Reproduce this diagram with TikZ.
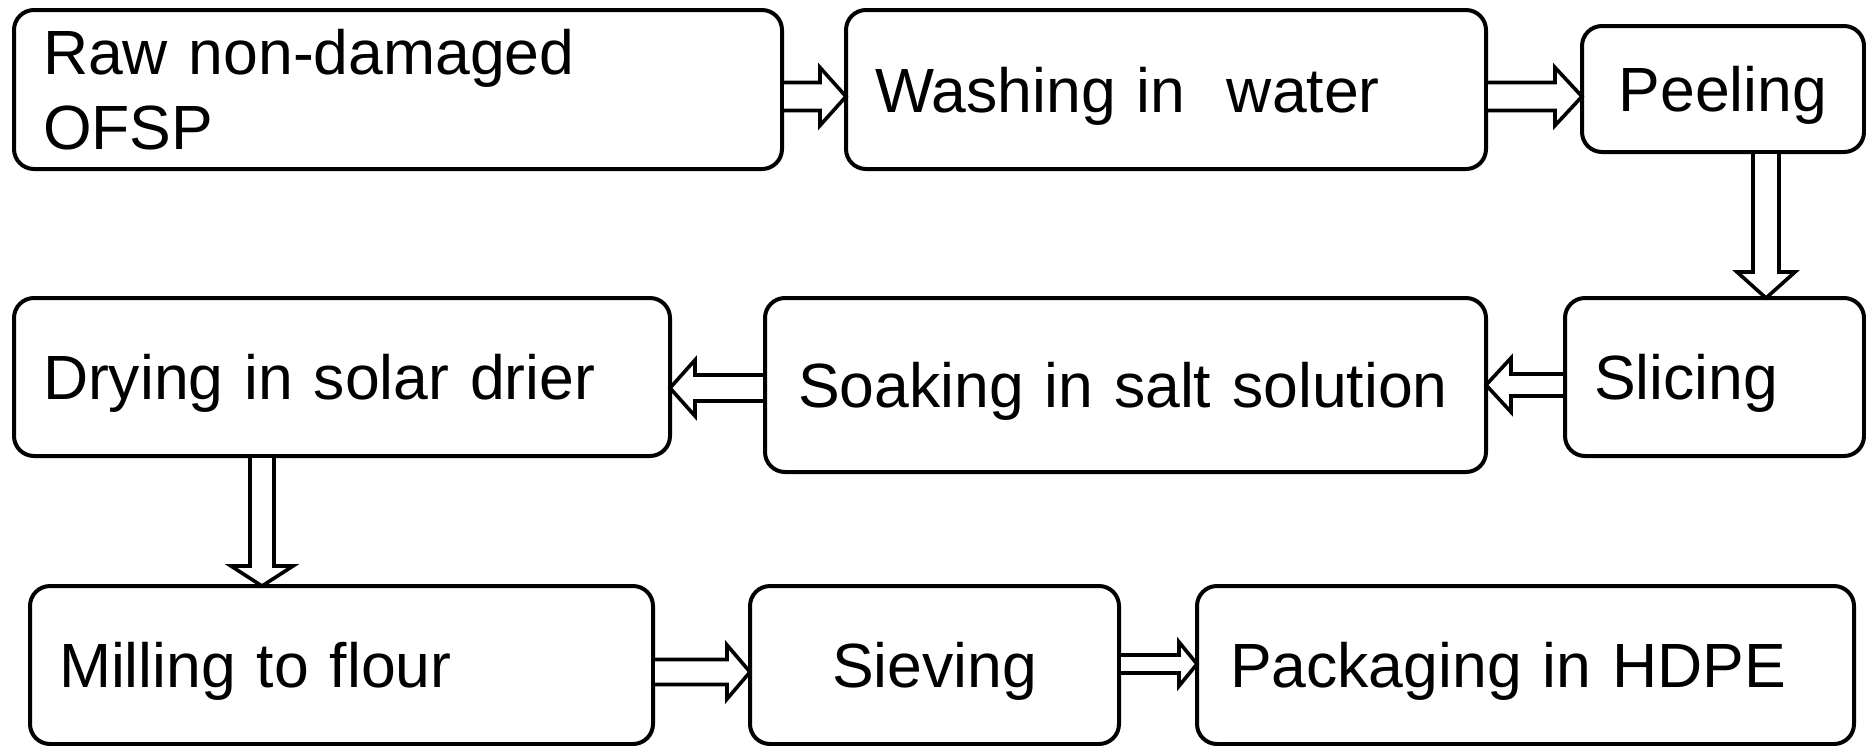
\documentclass[tikz,border=0pt]{standalone}
\usepackage{fontspec}
\setmainfont{Liberation Sans}
\usetikzlibrary{calc}
\tikzset{
  box/.style={draw, line width=4pt, rounded corners=20pt, anchor=north west,
    inner ysep=0pt, outer sep=0pt, font=\fontsize{62.5}{75}\selectfont},
  single/.style={text depth=0pt},
  leftbox/.style={box, align=left, inner xsep=29pt},
  blockarrow/.style={draw, line width=3.6pt, line join=miter, fill=white}
}
% #1 start, #2 tip, #3 shaft half width, #4 head half width, #5 head length
\newcommand\blockarrow[5]{%
  \coordinate (ba-h) at ($(#2)!#5!(#1)$);
  \path[blockarrow] ($(#1)!#3!90:(#2)$) -- ($(ba-h)!#3!90:(#2)$) -- ($(ba-h)!#4!90:(#2)$)
    -- (#2) -- ($(ba-h)!#4!-90:(#2)$) -- ($(ba-h)!#3!-90:(#2)$) -- ($(#1)!#3!-90:(#2)$) -- cycle;
}
\begin{document}
\begin{tikzpicture}[x=1pt, y=-1pt]
\useasboundingbox (0,0) rectangle (1866,745);
% row 1
\node[leftbox, minimum height=159pt, text width=710pt] (raw) at (14,10) {Raw non-damaged\\OFSP};
\node[leftbox, single, minimum height=159pt, text width=582pt] (wash) at (846,10) {Washing in\ \ water};
\node[box, single, align=center, inner xsep=10pt, minimum height=126pt, text width=262pt] (peel) at (1582,26) {Peeling};
% row 2
\node[leftbox, single, minimum height=158pt, text width=598pt] (dry) at (14,298) {Drying in solar drier};
\node[box, single, align=left, inner xsep=33pt, minimum height=174pt, text width=655pt] (soak) at (765,298) {Soaking~in~salt~solution};
\node[leftbox, single, minimum height=158pt, text width=241pt] (slice) at (1565,298) {Slicing};
% row 3
\node[leftbox, single, minimum height=158pt, text width=565pt] (mill) at (30,586) {Milling to flour};
\node[box, single, align=center, inner xsep=10pt, minimum height=158pt, text width=349pt] (sieve) at (750,586) {Sieving};
\node[box, single, align=left, inner xsep=33pt, minimum height=158pt, text width=591pt] (pack) at (1197,586) {Packaging in HDPE};
% arrows
\coordinate (a1s) at ($(raw.east)+(0,7)$);
\coordinate (a1e) at (a1s -| wash.west);
\blockarrow{a1s}{a1e}{14pt}{29pt}{26pt}
\coordinate (a2s) at ($(wash.east)+(0,7)$);
\coordinate (a2e) at (a2s -| peel.west);
\blockarrow{a2s}{a2e}{14pt}{29pt}{27pt}
\coordinate (a3s) at ($(peel.south)+(43,0)$);
\coordinate (a3e) at (a3s |- slice.north);
\blockarrow{a3s}{a3e}{13pt}{29pt}{26pt}
\coordinate (a5s) at ($(slice.west)+(0,8)$);
\coordinate (a5e) at (a5s -| soak.east);
\blockarrow{a5s}{a5e}{11pt}{27pt}{25pt}
\coordinate (a4s) at ($(soak.west)+(0,3)$);
\coordinate (a4e) at (a4s -| dry.east);
\blockarrow{a4s}{a4e}{13pt}{28pt}{25pt}
\coordinate (a6s) at ($(dry.south)+(-80,0)$);
\coordinate (a6e) at (a6s |- mill.north);
\blockarrow{a6s}{a6e}{12pt}{31pt}{20pt}
\coordinate (a7s) at ($(mill.east)+(0,7)$);
\coordinate (a7e) at (a7s -| sieve.west);
\blockarrow{a7s}{a7e}{12.5pt}{27pt}{23pt}
\coordinate (a8s) at ($(sieve.east)+(0,-1)$);
\coordinate (a8e) at (a8s -| pack.west);
\blockarrow{a8s}{a8e}{9pt}{22pt}{18pt}
\end{tikzpicture}
\end{document}
